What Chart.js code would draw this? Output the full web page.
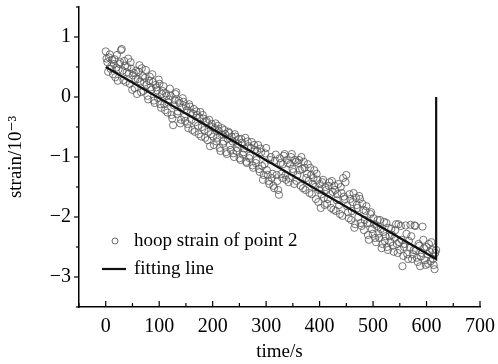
<!DOCTYPE html>
<html>
<head>
<meta charset="utf-8">
<script src="https://cdn.jsdelivr.net/npm/chart.js@4.4.1/dist/chart.umd.min.js"></script>
<style>
  html, body { margin: 0; padding: 0; background: #fff; }
  #wrap { width: 498px; height: 364px; }
</style>
</head>
<body>
<div id="wrap"><canvas id="strainChart" width="498" height="364"></canvas></div>
<script>
const time = [
  0, 3, 6, 9, 12, 15, 18, 21, 24, 27, 30, 33, 36, 39, 42, 45, 48, 51, 54, 57,
  60, 63, 66, 69, 72, 75, 78, 81, 84, 87, 90, 93, 96, 99, 102, 105, 108, 111, 114, 117,
  120, 123, 126, 129, 132, 135, 138, 141, 144, 147, 150, 153, 156, 159, 162, 165, 168, 171, 174, 177,
  180, 183, 186, 189, 192, 195, 198, 201, 204, 207, 210, 213, 216, 219, 222, 225, 228, 231, 234, 237,
  240, 243, 246, 249, 252, 255, 258, 261, 264, 267, 270, 273, 276, 279, 282, 285, 288, 291, 294, 297,
  300, 303, 306, 309, 312, 315, 318, 321, 324, 327, 330, 333, 336, 339, 342, 345, 348, 351, 354, 357,
  360, 363, 366, 369, 372, 375, 378, 381, 384, 387, 390, 393, 396, 399, 402, 405, 408, 411, 414, 417,
  420, 423, 426, 429, 432, 435, 438, 441, 444, 447, 450, 453, 456, 459, 462, 465, 468, 471, 474, 477,
  480, 483, 486, 489, 492, 495, 498, 501, 504, 507, 510, 513, 516, 519, 522, 525, 528, 531, 534, 537,
  540, 543, 546, 549, 552, 555, 558, 561, 564, 567, 570, 573, 576, 579, 582, 585, 588, 591, 594, 597,
  600, 603, 606, 609, 612, 615, 618
];
const hoopStrain = [
  0.76, 0.58, 0.66, 0.47, 0.62, 0.55, 0.33, 0.70, 0.46, 0.58, 0.80, 0.28, 0.52, 0.41, 0.64, 0.22, 0.47, 0.36, 0.15, 0.44,
  0.30, 0.53, 0.08, 0.35, 0.24, 0.45, 0.02, 0.27, 0.16, 0.38, -0.06, 0.20, 0.11, 0.29, -0.12, 0.05, 0.18, -0.22, 0.02, -0.09,
  0.14, -0.30, -0.47, -0.05, 0.08, -0.24, -0.10, -0.38, -0.02, -0.33, -0.15, -0.45, -0.12, -0.26, -0.55, -0.20, -0.42, -0.30, -0.62, -0.25,
  -0.50, -0.36, -0.68, -0.40, -0.58, -0.82, -0.45, -0.66, -0.52, -0.74, -0.48, -0.85, -0.62, -0.78, -0.55, -0.92, -0.70, -0.60, -0.88, -0.74,
  -1.00, -0.66, -0.85, -0.70, -1.05, -0.76, -0.92, -0.68, -1.10, -0.82, -0.98, -0.75, -1.18, -0.88, -1.05, -0.80, -1.25, -0.92, -1.38, -1.12,
  -0.85, -1.30, -1.45, -1.00, -1.28, -1.52, -0.96, -1.40, -1.63, -1.10, -1.35, -0.98, -1.30, -1.05, -1.42, -1.12, -0.95, -1.25, -1.05, -1.40,
  -1.10, -1.22, -1.00, -1.52, -1.18, -1.35, -1.12, -1.60, -1.30, -1.45, -1.22, -1.70, -1.38, -1.55, -1.85, -1.42, -1.68, -1.50, -1.78, -1.48,
  -1.62, -1.40, -1.88, -1.55, -1.72, -1.45, -1.95, -1.60, -1.35, -1.70, -1.30, -1.92, -1.62, -2.05, -1.75, -2.18, -1.68, -1.85, -1.65, -2.10,
  -1.78, -2.22, -1.90, -2.10, -2.38, -1.95, -2.20, -2.02, -2.35, -2.15, -2.28, -2.05, -2.52, -2.25, -2.40, -2.10, -2.55, -2.32, -2.20, -2.48,
  -2.35, -2.12, -2.60, -2.42, -2.15, -2.82, -2.50, -2.14, -2.62, -2.40, -2.13, -2.70, -2.55, -2.15, -2.68, -2.45, -2.82, -2.60, -2.38, -2.72,
  -2.50, -2.78, -2.58, -2.42, -2.70, -2.87, -2.55
];
// the in-between samples
const time2 = [
  1.5, 4.5, 7.5, 10.5, 13.5, 16.5, 19.5, 22.5, 25.5, 28.5, 31.5, 34.5, 37.5, 40.5, 43.5, 46.5, 49.5, 52.5, 55.5, 58.5,
  61.5, 64.5, 67.5, 70.5, 73.5, 76.5, 79.5, 82.5, 85.5, 88.5, 91.5, 94.5, 97.5, 100.5, 103.5, 106.5, 109.5, 112.5, 115.5, 118.5,
  121.5, 124.5, 127.5, 130.5, 133.5, 136.5, 139.5, 142.5, 145.5, 148.5, 151.5, 154.5, 157.5, 160.5, 163.5, 166.5, 169.5, 172.5, 175.5, 178.5,
  181.5, 184.5, 187.5, 190.5, 193.5, 196.5, 199.5, 202.5, 205.5, 208.5, 211.5, 214.5, 217.5, 220.5, 223.5, 226.5, 229.5, 232.5, 235.5, 238.5,
  241.5, 244.5, 247.5, 250.5, 253.5, 256.5, 259.5, 262.5, 265.5, 268.5, 271.5, 274.5, 277.5, 280.5, 283.5, 286.5, 289.5, 292.5, 295.5, 298.5,
  301.5, 304.5, 307.5, 310.5, 313.5, 316.5, 319.5, 322.5, 325.5, 328.5, 331.5, 334.5, 337.5, 340.5, 343.5, 346.5, 349.5, 352.5, 355.5, 358.5,
  361.5, 364.5, 367.5, 370.5, 373.5, 376.5, 379.5, 382.5, 385.5, 388.5, 391.5, 394.5, 397.5, 400.5, 403.5, 406.5, 409.5, 412.5, 415.5, 418.5,
  421.5, 424.5, 427.5, 430.5, 433.5, 436.5, 439.5, 442.5, 445.5, 448.5, 451.5, 454.5, 457.5, 460.5, 463.5, 466.5, 469.5, 472.5, 475.5, 478.5,
  481.5, 484.5, 487.5, 490.5, 493.5, 496.5, 499.5, 502.5, 505.5, 508.5, 511.5, 514.5, 517.5, 520.5, 523.5, 526.5, 529.5, 532.5, 535.5, 538.5,
  541.5, 544.5, 547.5, 550.5, 553.5, 556.5, 559.5, 562.5, 565.5, 568.5, 571.5, 574.5, 577.5, 580.5, 583.5, 586.5, 589.5, 592.5, 595.5, 598.5,
  601.5, 604.5, 607.5, 610.5, 613.5, 616.5
];
const hoopStrain2 = [
  0.64, 0.42, 0.71, 0.52, 0.38, 0.63, 0.49, 0.27, 0.55, 0.78, 0.44, 0.60, 0.25, 0.50, 0.39, 0.58, 0.12, 0.40, 0.30, 0.05,
  0.42, 0.26, 0.48, 0.10, 0.32, 0.20, -0.04, 0.34, 0.12, 0.25, -0.10, 0.16, -0.02, 0.22, -0.18, 0.10, -0.12, 0.06, -0.26, -0.04,
  0.02, -0.36, -0.14, 0.05, -0.28, -0.06, -0.44, -0.18, -0.08, -0.40, -0.22, -0.52, -0.16, -0.38, -0.28, -0.58, -0.24, -0.48, -0.34, -0.66,
  -0.30, -0.55, -0.42, -0.72, -0.38, -0.62, -0.50, -0.80, -0.44, -0.68, -0.56, -0.90, -0.52, -0.74, -0.62, -0.95, -0.58, -0.80, -0.66, -0.94,
  -0.62, -0.90, -0.78, -1.02, -0.70, -0.96, -0.86, -1.08, -0.74, -1.02, -0.85, -1.14, -0.80, -1.10, -0.90, -1.20, -0.86, -1.15, -1.30, -0.94,
  -1.22, -1.40, -1.05, -1.35, -1.48, -1.06, -1.30, -1.55, -1.02, -1.28, -1.12, -0.95, -1.38, -1.10, -1.35, -1.00, -1.20, -1.45, -1.08, -1.30,
  -1.05, -1.48, -1.20, -1.08, -1.55, -1.28, -1.40, -1.18, -1.62, -1.35, -1.50, -1.28, -1.75, -1.45, -1.62, -1.38, -1.80, -1.55, -1.70, -1.42,
  -1.85, -1.58, -1.48, -1.90, -1.62, -1.80, -1.50, -1.98, -1.66, -1.42, -1.82, -2.02, -1.70, -1.90, -1.60, -2.12, -1.80, -2.00, -1.70, -2.15,
  -1.88, -2.05, -1.82, -2.30, -2.10, -1.92, -2.28, -2.12, -2.42, -2.05, -2.35, -2.20, -2.45, -2.08, -2.32, -2.50, -2.18, -2.42, -2.30, -2.58,
  -2.22, -2.45, -2.12, -2.55, -2.38, -2.65, -2.45, -2.28, -2.70, -2.50, -2.32, -2.62, -2.14, -2.56, -2.75, -2.48, -2.66, -2.16, -2.52, -2.80,
  -2.62, -2.45, -2.74, -2.55, -2.80, -2.60
];
// fitted line, then the jump back at the end
const fitTime = [0, 618, 618];
const fitStrain = [0.5, -2.7, 0];

const xTicks = [0, 100, 200, 300, 400, 500, 600, 700];
const yTicks = [-3, -2, -1, 0, 1];

const serif = "'Liberation Serif', 'DejaVu Serif', serif";

const scatterData = time.map((t, i) => ({ x: t, y: hoopStrain[i] }))
    .concat(time2.map((t, i) => ({ x: t, y: hoopStrain2[i] })));
const fitData = fitTime.map((t, i) => ({ x: t, y: fitStrain[i] }));

// minor/major tick marks: x ticks point inward, y ticks outward
const tickMarks = {
    id: 'tickMarks',
    afterDraw(chart) {
        const c = chart.ctx;
        const xs = chart.scales.x, ys = chart.scales.y;
        c.save();
        c.strokeStyle = '#000';
        c.lineWidth = 1.2;
        xs.ticks.forEach(t => {
            const px = xs.getPixelForValue(t.value);
            const len = xTicks.includes(t.value) ? 6 : 4;
            c.beginPath();
            c.moveTo(px, ys.bottom);
            c.lineTo(px, ys.bottom - len);
            c.stroke();
        });
        ys.ticks.forEach(t => {
            const py = ys.getPixelForValue(t.value);
            const len = yTicks.includes(t.value) ? 5 : 3;
            c.beginPath();
            c.moveTo(xs.left, py);
            c.lineTo(xs.left - len, py);
            c.stroke();
        });
        c.restore();
    }
};

// legend sits inside the plot, bottom left
const innerLegend = {
    id: 'innerLegend',
    afterDraw(chart) {
        const c = chart.ctx;
        c.save();
        c.font = '19px ' + serif;
        c.fillStyle = '#000';
        c.textBaseline = 'middle';
        c.strokeStyle = '#444';
        c.lineWidth = 0.8;
        c.beginPath();
        c.arc(115, 241, 3, 0, Math.PI * 2);
        c.stroke();
        c.fillText(chart.data.datasets[0].label, 134, 241);
        c.strokeStyle = '#111';
        c.lineWidth = 2.2;
        c.beginPath();
        c.moveTo(102, 269);
        c.lineTo(126, 269);
        c.stroke();
        c.fillText(chart.data.datasets[1].label, 134, 269);
        c.restore();
    }
};

const ctx = document.getElementById('strainChart').getContext('2d');
const strainChart = new Chart(ctx, {
    type: 'scatter',
    data: {
        datasets: [{
            label: 'hoop strain of point 2',
            data: scatterData,
            pointStyle: 'circle',
            pointRadius: 3.6,
            pointBorderWidth: 0.8,
            borderColor: '#555',
            backgroundColor: 'rgba(0,0,0,0)',
            order: 2
        }, {
            label: 'fitting line',
            type: 'line',
            data: fitData,
            showLine: true,
            borderColor: '#111',
            borderWidth: 2.2,
            pointRadius: 0,
            fill: false,
            order: 1
        }]
    },
    options: {
        responsive: false,
        animation: false,
        layout: { padding: { top: 7, right: 18, left: 0, bottom: 0 } },
        plugins: {
            legend: { display: false },
            tooltip: { enabled: false }
        },
        scales: {
            x: {
                type: 'linear',
                min: -50,
                max: 700,
                afterFit(scale) {
                    scale.height = 57;
                    scale.paddingLeft = 0;
                    scale.paddingRight = 0;
                },
                ticks: {
                    stepSize: 50,
                    autoSkip: false,
                    maxRotation: 0,
                    padding: 8,
                    color: '#000',
                    font: { family: serif, size: 20 },
                    callback: v => xTicks.includes(v) ? String(v) : ''
                },
                grid: { display: true, drawOnChartArea: false, drawTicks: false },
                border: { display: true, color: '#000', width: 1.5 },
                title: {
                    display: true,
                    text: 'time/s',
                    color: '#000',
                    font: { family: serif, size: 19 },
                    padding: { top: 0, bottom: 1 }
                }
            },
            y: {
                type: 'linear',
                min: -3.5,
                max: 1.5,
                afterFit(scale) {
                    scale.width = 79;
                    scale.paddingTop = 0;
                    scale.paddingBottom = 0;
                },
                ticks: {
                    stepSize: 0.5,
                    autoSkip: false,
                    padding: 8,
                    color: '#000',
                    font: { family: serif, size: 20 },
                    callback: v => yTicks.includes(v) ? String(v).replace('-', '\u2212') : ''
                },
                grid: { display: true, drawOnChartArea: false, drawTicks: false },
                border: { display: true, color: '#000', width: 1.5 },
                title: {
                    display: true,
                    text: 'strain/10\u207B\u00B3',
                    color: '#000',
                    font: { family: serif, size: 19 },
                    padding: { top: 5, bottom: 0 }
                }
            }
        }
    },
    plugins: [tickMarks, innerLegend]
});
</script>
</body>
</html>
